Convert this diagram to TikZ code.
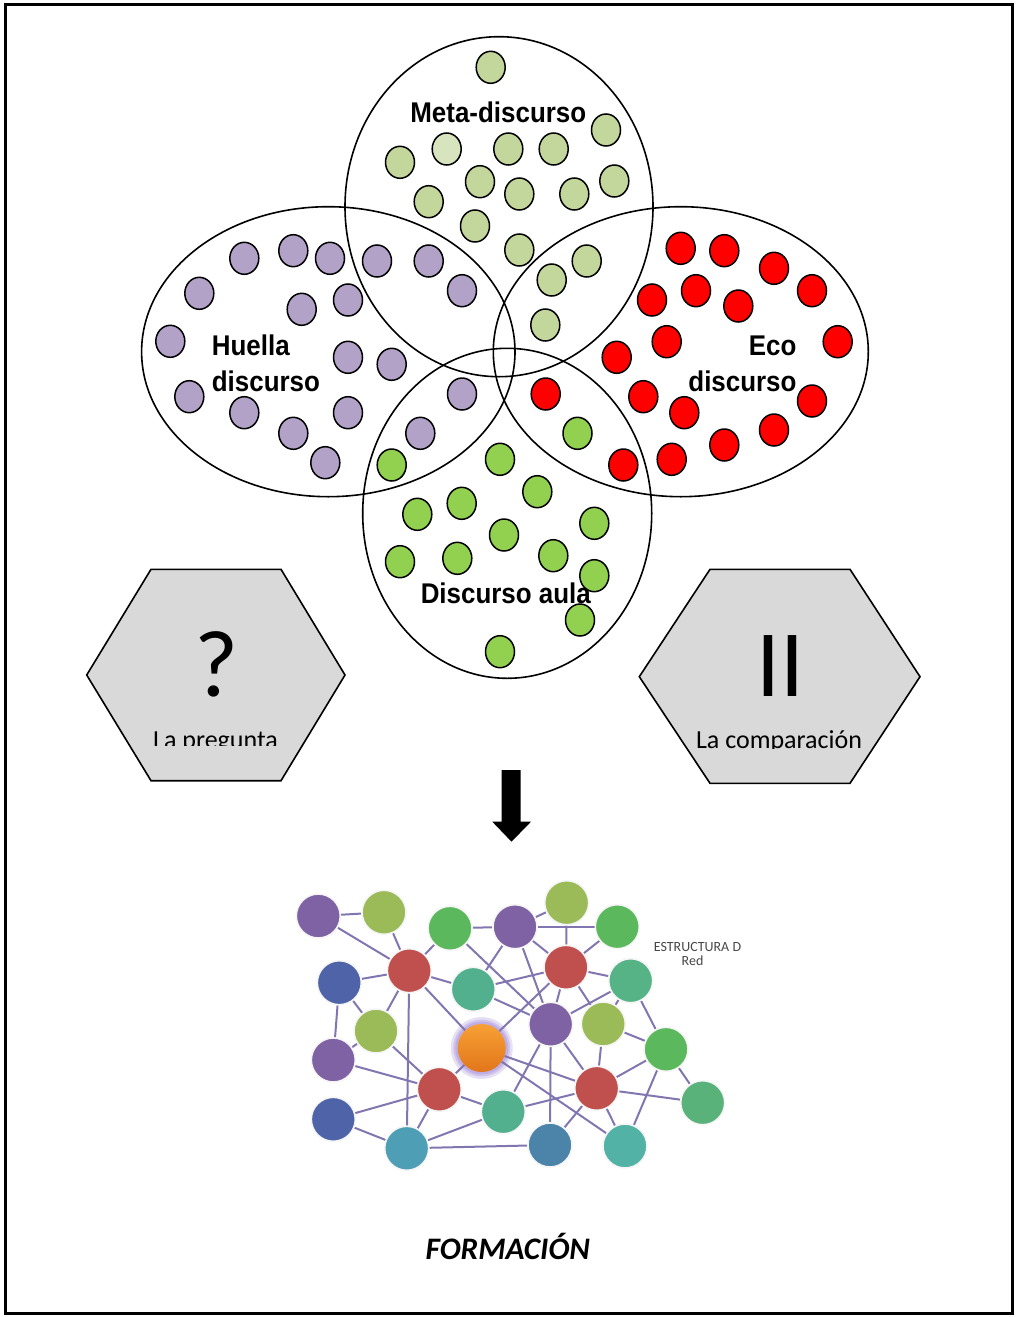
\documentclass[tikz,border=0pt]{standalone}
\usepackage{fontspec}
\setmainfont{Liberation Sans}
\newfontfamily\calib{Carlito}
\usetikzlibrary{shapes.geometric,backgrounds}

\definecolor{metagreen}{HTML}{C3D69B}
\definecolor{metalight}{HTML}{D7E4BD}
\definecolor{lilac}{HTML}{B3A2C7}
\definecolor{aulagreen}{HTML}{92D050}
\definecolor{hexgray}{HTML}{D9D9D9}
\definecolor{netline}{HTML}{8276B0}
\definecolor{npurple}{HTML}{7E62A3}
\definecolor{nolive}{HTML}{9BBB59}
\definecolor{ngreen}{HTML}{5CB85C}
\definecolor{nred}{HTML}{C0504D}
\definecolor{nblue}{HTML}{4F63A8}
\definecolor{nsea}{HTML}{52B08E}
\definecolor{nmint}{HTML}{56B386}
\definecolor{nleaf}{HTML}{58B27A}
\definecolor{nteal}{HTML}{4E9FB5}
\definecolor{nsteel}{HTML}{4B84A8}
\definecolor{naqua}{HTML}{52B2A6}
\definecolor{glow}{HTML}{9C84D4}
\definecolor{orangetop}{HTML}{F7A035}
\definecolor{orangebot}{HTML}{E2761A}

\newcommand\biglabel[1]{\scalebox{0.91}[1]{\bfseries #1}}

\tikzset{
  dot/.style={ellipse, draw=black, line width=1.5pt, minimum width=29pt,
              minimum height=32pt, inner sep=0pt},
  setring/.style={draw=black, line width=1.6pt},
  setname/.style={font=\fontsize{28.5}{34}\selectfont, inner sep=0pt},
  hexbox/.style={draw=black, line width=1.6pt, fill=hexgray},
  hexsign/.style={font=\calib\fontsize{95}{100}\selectfont, inner sep=0pt, anchor=base},
  hexcap/.style={font=\calib\fontsize{26}{30}\selectfont, inner sep=0pt, anchor=base},
  net/.style={circle, minimum size=44pt, inner sep=0pt, draw=white!92!gray, line width=1.6pt},
  link/.style={draw=netline, line width=2pt}
}

\begin{document}
\begin{tikzpicture}[x=1pt,y=-1pt]
\useasboundingbox (0,0) rectangle (1016,1317);
% frame
\draw[line width=3pt] (5,4.5) rectangle (1012,1313);

% four overlapping sets
\draw[setring] (499,206.7) ellipse [x radius=154, y radius=170];
\draw[setring] (328.3,351.7) ellipse [x radius=186.7, y radius=145];
\draw[setring] (680.8,351.7) ellipse [x radius=187.5, y radius=145];
\draw[setring] (507.2,513.3) ellipse [x radius=144.5, y radius=165];

% meta-discurso members
\foreach \x/\y [count=\i] in {490.7/67.3, 606/130, 400/162.3, 508.3/149, 553.7/149,
    480/181.7, 519.3/194, 574.3/194, 614.3/181, 428.7/201.7, 475/226, 519.3/250,
    586.7/261, 551.7/280, 545.3/325}
  \node[dot, fill=metagreen] (m\i) at (\x,\y) {};
\node[dot, fill=metalight] (m0) at (446.7,149) {};

% huella members
\foreach \x/\y [count=\i] in {244.3/258.3, 293.3/250.7, 330/258.3, 377/261, 428.7/261,
    462/290.7, 199.3/293.3, 301.7/309.3, 348/300, 170.3/341.3, 348/357.3, 391.7/364.3,
    189.3/396.7, 244.3/412.7, 293.3/433.3, 348/412.7, 325.3/462.7, 462/394, 420.3/433.3}
  \node[dot, fill=lilac] (h\i) at (\x,\y) {};

% eco members
\foreach \x/\y [count=\i] in {680.7/248.3, 724.3/250.7, 774/268.3, 812/290.7, 652/300,
    696/290.7, 738.3/306, 666.7/341.7, 837.7/341.7, 616.7/357.3, 643.3/396.7,
    684.3/412.7, 812/401, 545.7/394, 774/430, 724.3/445, 671.7/459.3, 623.3/465}
  \node[dot, fill=red] (e\i) at (\x,\y) {};

% aula members
\foreach \x/\y [count=\i] in {577.5/433.3, 391.7/465, 500/459.3, 537.3/491.7,
    461.7/503.3, 417.3/514.3, 594.3/523.3, 504/535, 400/561.7, 457.3/558.3,
    553.3/555.7, 594.3/575.7, 580/620, 500/651.7}
  \node[dot, fill=aulagreen] (a\i) at (\x,\y) {};

% set names
\node[setname, anchor=base] (meta) at (498.3,122.7) {\biglabel{Meta-discurso}};
\node[setname, anchor=base west] (huellaA) at (211.7,355) {\biglabel{Huella}};
\node[setname, anchor=base west] (huellaB) at (211.7,391.7) {\biglabel{discurso}};
\node[setname, anchor=base east] (ecoA) at (796.7,355) {\biglabel{Eco}};
\node[setname, anchor=base east] (ecoB) at (796.7,391.7) {\biglabel{discurso}};
\node[setname, anchor=base] (aula) at (505.8,603.3) {\biglabel{Discurso aula}};

% question hexagon
\draw[hexbox] (151,569.3) -- (281,569.3) -- (345,675) -- (281,780.7)
  -- (151,780.7) -- (86.7,675) -- cycle;
\node[hexsign] (qmark) at (217,696.5) {?};
\begin{scope}
  \clip (100,700) rectangle (330,745);
  \node[hexcap] (qtext) at (215.5,748) {La pregunta};
\end{scope}

% comparison hexagon
\draw[hexbox] (710,569.3) -- (850,569.3) -- (920,676.7) -- (850,783.3)
  -- (710,783.3) -- (639.3,676.7) -- cycle;
\node[hexsign] (cmark) at (780.5,696.7) {II};
\begin{scope}
  \clip (650,700) rectangle (910,748.5);
  \node[hexcap] (ctext) at (779,748.3) {La comparación};
\end{scope}

% downward arrow
\fill (501.7,770) -- (520.7,770) -- (520.7,821.7) -- (531,821.7) -- (511.5,841.7)
  -- (492.3,821.7) -- (501.7,821.7) -- cycle;

% network
\node[net, fill=npurple] (n1) at (318.3,916) {};
\node[net, fill=nolive]  (n2) at (384,912.3) {};
\node[net, fill=ngreen]  (n3) at (450,928.3) {};
\node[net, fill=npurple] (n4) at (515,926.7) {};
\node[net, fill=nolive]  (n5) at (566.7,902.7) {};
\node[net, fill=ngreen]  (n6) at (617.3,926.7) {};
\node[net, fill=nred]    (n7) at (409.3,970.7) {};
\node[net, fill=nblue]   (n8) at (339.3,982.7) {};
\node[net, fill=nsea]    (n9) at (473.3,989.3) {};
\node[net, fill=nred]    (n10) at (566,967.3) {};
\node[net, fill=nmint]   (n11) at (630.7,980.7) {};
\node[net, fill=nolive]  (n12) at (376,1031) {};
\node[circle, minimum size=48pt, inner sep=0pt, draw=none,
      top color=orangetop, bottom color=orangebot] (n13) at (481.7,1048) {};
\node[net, fill=npurple] (n14) at (550.7,1024.3) {};
\node[net, fill=nolive]  (n15) at (603.3,1024) {};
\node[net, fill=npurple] (n16) at (333.3,1060) {};
\node[net, fill=ngreen]  (n17) at (666,1049.3) {};
\node[net, fill=nred]    (n18) at (439.3,1089.3) {};
\node[net, fill=nred]    (n19) at (596.7,1088.3) {};
\node[net, fill=nsea]    (n20) at (503.3,1111.7) {};
\node[net, fill=nleaf]   (n21) at (702.7,1102.7) {};
\node[net, fill=nblue]   (n22) at (333.3,1119.3) {};
\node[net, fill=nteal]   (n23) at (406.7,1148.3) {};
\node[net, fill=nsteel]  (n24) at (550,1145) {};
\node[net, fill=naqua]   (n25) at (625,1146) {};

\begin{scope}[on background layer]
  % halo round the central node
  \fill[glow, opacity=0.25] (n13.center) circle (31pt);
  \fill[glow, opacity=0.3] (n13.center) circle (28.5pt);
  \fill[glow, opacity=0.35] (n13.center) circle (26.5pt);
  \foreach \a/\b in {1/2, 1/7, 2/7, 3/7, 3/4, 3/14, 4/5, 4/6, 4/9, 4/10, 4/14,
      5/10, 6/10, 7/8, 7/9, 7/12, 7/13, 7/23, 8/12, 8/16, 9/10, 9/14,
      10/11, 10/13, 10/14, 10/15, 11/14, 11/15, 11/17, 12/16, 12/18,
      13/18, 13/19, 13/25, 14/19, 14/20, 14/24, 15/17, 15/19, 16/18,
      17/19, 17/21, 17/25, 18/20, 18/22, 18/23, 19/20, 19/21, 19/24,
      19/25, 20/23, 22/23, 23/24}
    \draw[link] (n\a) -- (n\b);
\end{scope}

\node[font=\calib\fontsize{14}{16}\selectfont, text=black!72, inner sep=0pt,
      anchor=base] (netA) at (697.5,951) {ESTRUCTURA D};
\node[font=\calib\fontsize{14}{16}\selectfont, text=black!72, inner sep=0pt,
      anchor=base] (netB) at (692.5,965) {Red};

% caption
\node[font=\calib\bfseries\itshape\fontsize{31.3}{34}\selectfont, inner sep=0pt,
      anchor=base] (caption) at (507.8,1259) {FORMACIÓN};
\end{tikzpicture}
\end{document}
